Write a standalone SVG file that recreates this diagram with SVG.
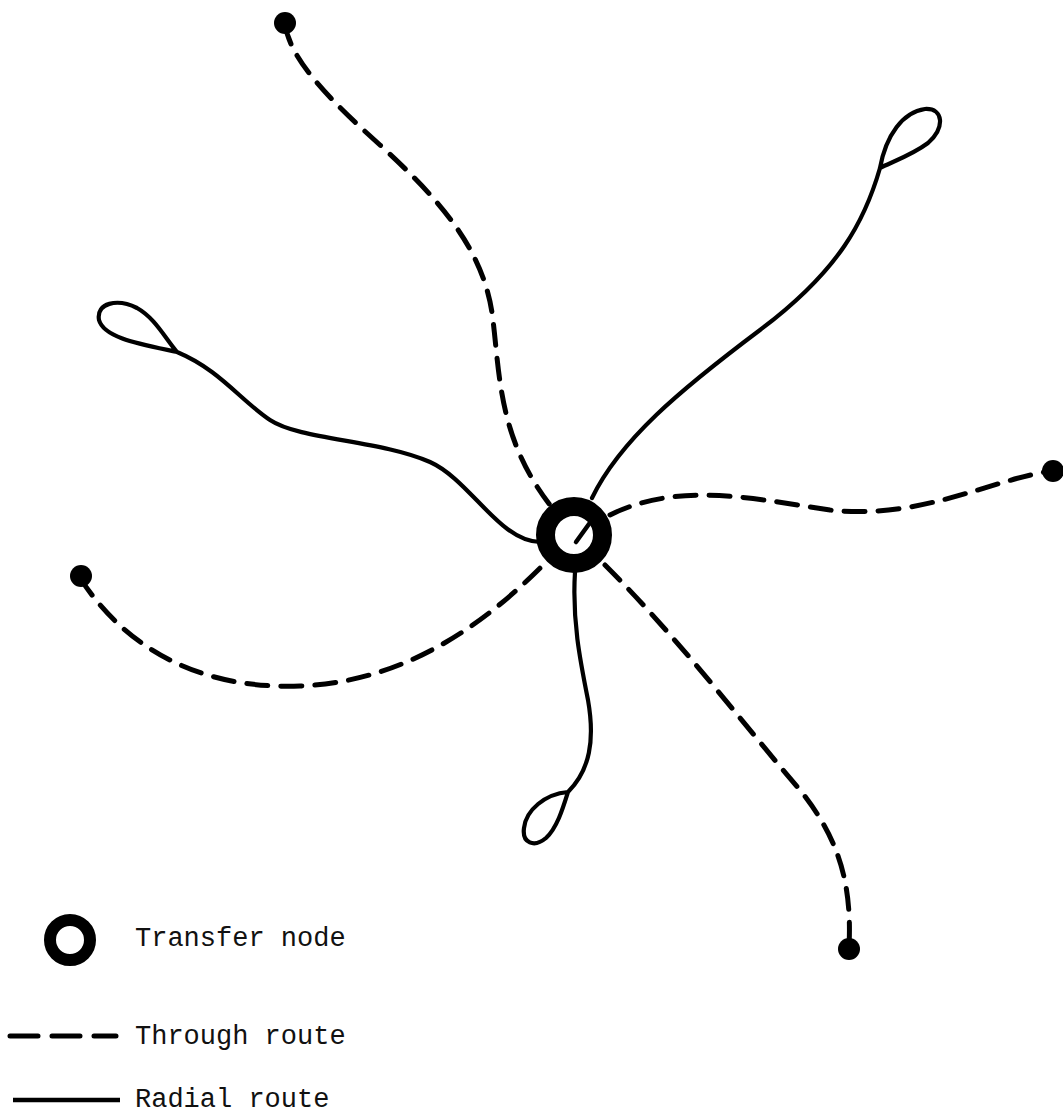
<svg xmlns="http://www.w3.org/2000/svg" width="1063" height="1116" viewBox="0 0 1063 1116">
<style>
.thr{fill:none;stroke:#000;stroke-width:5;stroke-dasharray:21 13;stroke-linecap:round}
.rad{fill:none;stroke:#000;stroke-width:4.2;stroke-linecap:round;stroke-linejoin:round}
.term{fill:#000}
.ring{fill:none;stroke:#000}
.lbl{font-family:"Liberation Mono","Courier New",monospace;font-size:27px;fill:#111}
</style>
<rect width="1063" height="1116" fill="#fff"/>
<g id="connectors">
  <path class="thr" d="M285,24 C290,60 330,100 380,145 C440,200 485,250 493,320 C500,380 500,440 550,505"/>
  <path class="thr" d="M605,565 C680,640 740,720 800,790 C840,840 852,885 849,947"/>
  <path class="thr" d="M80,578 C120,640 190,690 300,686 C400,682 480,630 548,560"/>
  <path class="thr" d="M610,515 C680,480 760,500 830,510 C920,520 990,480 1051,471"/>
  <path class="rad" d="M592,498 C620,440 680,390 760,330 C840,270 865,220 880,168 C886,135 903,112 925,109 C944,108 945,128 928,143 C912,155 892,162 880,168"/>
  <path class="rad" d="M540,542 C500,542 470,480 430,462 C380,440 300,440 270,420 C240,400 220,370 177,352 C140,344 104,338 99,320 C96,303 117,298 137,308 C155,318 165,338 177,352"/>
  <path class="rad" d="M575,572 C572,620 580,660 588,700 C595,740 590,770 568,792 C545,794 526,810 524,828 C522,843 534,848 546,838 C557,828 563,808 568,792"/>
</g>
<g id="node-transfer">
  <circle class="ring" cx="574" cy="535" r="28.5" stroke-width="19"/>
  <line x1="589" y1="524" x2="576" y2="542" stroke="#000" stroke-width="4.5" stroke-linecap="round"/>
</g>
<g id="node-top"><circle class="term" cx="285" cy="23" r="11"/></g>
<g id="node-right"><circle class="term" cx="1053" cy="471" r="11"/></g>
<g id="node-left"><circle class="term" cx="81" cy="576" r="11"/></g>
<g id="node-bottom"><circle class="term" cx="849" cy="949" r="11"/></g>
<g id="legend">
  <circle class="ring" cx="70" cy="940" r="20" stroke-width="12"/>
  <text class="lbl" x="135" y="946">Transfer node</text>
  <line x1="10" y1="1036" x2="116" y2="1036" stroke="#000" stroke-width="5" stroke-dasharray="28 14" stroke-linecap="round"/>
  <text class="lbl" x="135" y="1044">Through route</text>
  <line x1="13" y1="1100" x2="120" y2="1100" stroke="#000" stroke-width="4.5"/>
  <text class="lbl" x="135" y="1107">Radial route</text>
</g>
</svg>
